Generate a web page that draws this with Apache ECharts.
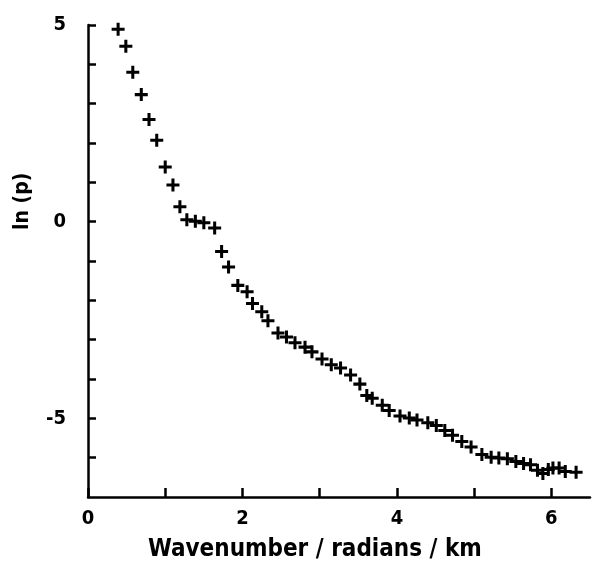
<!DOCTYPE html>
<html>
<head>
<meta charset="utf-8">
<script src="https://cdn.jsdelivr.net/npm/echarts@6/dist/echarts.min.js"></script>
<style>html,body{margin:0;padding:0;background:#fff}#c{width:597px;height:566px}</style>
</head>
<body>
<div id="c"></div>
<script>
// Wavenumber (radians/km)
var wavenumber = [0.39,0.49,0.58,0.69,0.79,0.89,1.00,1.10,1.19,1.28,1.39,1.50,1.64,1.73,1.82,1.94,2.06,2.13,2.25,2.33,2.46,2.57,2.68,2.81,2.90,3.03,3.15,3.27,3.40,3.52,3.61,3.68,3.81,3.90,4.04,4.16,4.26,4.40,4.51,4.62,4.72,4.84,4.96,5.10,5.22,5.32,5.43,5.54,5.64,5.73,5.82,5.89,5.96,6.02,6.10,6.18,6.32];
// ln(p)
var lnP = [4.89,4.46,3.80,3.23,2.60,2.07,1.39,0.93,0.38,0.05,0.01,-0.03,-0.16,-0.76,-1.15,-1.62,-1.78,-2.08,-2.29,-2.52,-2.83,-2.93,-3.08,-3.19,-3.31,-3.49,-3.64,-3.72,-3.90,-4.13,-4.42,-4.49,-4.67,-4.80,-4.94,-4.99,-5.04,-5.11,-5.18,-5.31,-5.43,-5.59,-5.73,-5.92,-5.99,-6.01,-6.03,-6.10,-6.15,-6.18,-6.32,-6.40,-6.30,-6.26,-6.26,-6.35,-6.37];
var xTicks = [0,1,2,3,4,5,6];
var xLabels = [0,2,4,6];
var yTicks = [-6,-5,-4,-3,-2,-1,0,1,2,3,4,5];
var yLabels = [-5,0,5];
var xTitle = 'Wavenumber / radians / km';
var yTitle = 'ln (p)';

var pts = wavenumber.map(function(x,i){return [x,lnP[i]];});
var FONT = '"DejaVu Sans Condensed","DejaVu Sans",sans-serif';
var chart = echarts.init(document.getElementById('c'));
chart.setOption({
  animation:false,
  backgroundColor:'#fff',
  grid:{left:88,right:7,top:25,bottom:69},
  xAxis:{type:'value',min:0,max:6.5,
    axisLine:{onZero:false,lineStyle:{color:'#000',width:2.5}},
    axisTick:{show:true,inside:true,length:9,lineStyle:{color:'#000',width:2.5},customValues:xTicks},
    axisLabel:{customValues:xLabels,color:'#000',fontFamily:FONT,fontWeight:'bold',fontSize:20,margin:12},
    splitLine:{show:false}},
  yAxis:{type:'value',min:-7,max:5,
    axisLine:{onZero:false,lineStyle:{color:'#000',width:2.5}},
    axisTick:{show:true,inside:true,length:8,lineStyle:{color:'#000',width:2.5},customValues:yTicks},
    axisLabel:{customValues:yLabels,color:'#000',fontFamily:FONT,fontWeight:'bold',fontSize:20,margin:22},
    splitLine:{show:false}},
  graphic:[
    {type:'text',left:148,top:538,style:{text:xTitle,fill:'#000',font:'bold 24px '+FONT}},
    {type:'text',x:12,y:230,rotation:Math.PI/2,style:{text:yTitle,fill:'#000',font:'bold 21px '+FONT}}
  ],
  series:[{type:'scatter',data:pts,
    symbol:'path://M4.6,0H7.4V4.6H12V7.4H7.4V12H4.6V7.4H0V4.6H4.6Z',
    symbolSize:13,itemStyle:{color:'#000',opacity:1}}]
});
</script>
</body>
</html>
